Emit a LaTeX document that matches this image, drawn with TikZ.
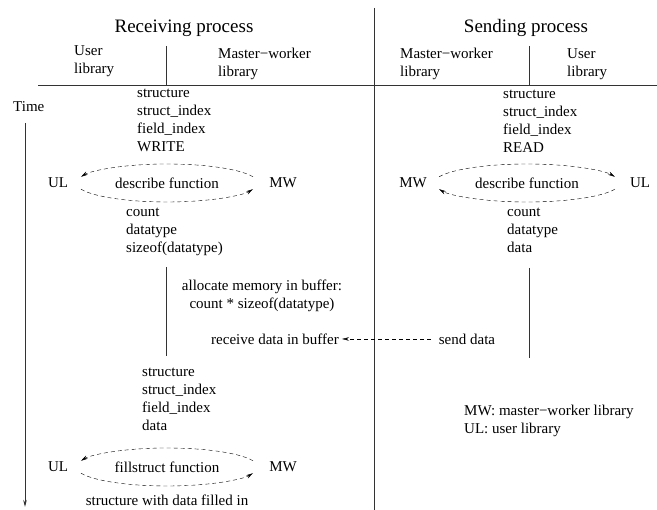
\documentclass[tikz,border=0pt]{standalone}
\usepackage{fontspec}
\setmainfont{Liberation Serif}
\usetikzlibrary{arrows.meta}
\begin{document}
\begin{tikzpicture}[x=1pt,y=1pt,
	every node/.style={inner sep=0pt,font=\fontsize{15}{18}\selectfont},
	head/.style={font=\fontsize{19}{22}\selectfont},
	lst/.style={align=left,anchor=north west},
	rule/.style={line width=0.8pt,black!80},
	flow/.style={dash pattern=on 4pt off 3pt,-{Stealth[length=7pt,width=3.5pt]}}]
\useasboundingbox (0,0) rectangle (657,510);
% frame of the two processes
\draw[rule] (374,502) -- (374,0);
\draw[rule] (38,425) -- (657,425);
\draw[rule] (166,464) -- (166,425);
\draw[rule] (529,464) -- (529,425);
\node[head] (recvhead) at (184,482) {Receiving process};
\node[head] (sendhead) at (526,482) {Sending process};
\node[lst] (ullib) at (74,465) {User\\library};
\node[lst] (mwlib) at (218,462) {Master−worker\\library};
\node[lst] (mwlib2) at (400,462) {Master−worker\\library};
\node[lst] (ullib2) at (567,462) {User\\library};
% time axis
\node[anchor=west] (time) at (13,403) {Time};
\coordinate (tend) at (25,3);
\draw[rule,-{Stealth[length=7pt,width=3.5pt]}] (25,387) -- (tend);
% receiving side
\node[lst] (args1) at (137,421) {structure\\struct\_index\\field\_index\\WRITE};
\node (ul1) at (58,327) {UL};
\node (df1) at (167,327) {describe function};
\node (mw1) at (283,327) {MW};
\draw[flow] (df1.center) ++(19:91 and 19) arc[start angle=19,end angle=161,x radius=91,y radius=19];
\draw[flow] (df1.center) ++(199:91 and 19) arc[start angle=199,end angle=341,x radius=91,y radius=19];
\node[lst] (res1) at (126,302) {count\\datatype\\sizeof(datatype)};
\draw[rule] (166,243) -- (166,154);
\node[align=center,anchor=north] (alloc) at (262,230) {allocate memory in buffer:\\count * sizeof(datatype)};
\node (recv) at (275,171) {receive data in buffer};
\node[lst] (args2) at (142,142) {structure\\struct\_index\\field\_index\\data};
\node (ul2) at (58,43) {UL};
\node (fs) at (167,43) {fillstruct function};
\node (mw2) at (283,43) {MW};
\draw[flow] (fs.center) ++(19:91 and 19) arc[start angle=19,end angle=161,x radius=91,y radius=19];
\draw[flow] (fs.center) ++(199:91 and 19) arc[start angle=199,end angle=341,x radius=91,y radius=19];
\node[anchor=south] (filled) at (167,4) {structure with data filled in};
% sending side
\node[lst] (args3) at (503,420) {structure\\struct\_index\\field\_index\\READ};
\node (mw3) at (413,327) {MW};
\node (df2) at (527,327) {describe function};
\node (ul3) at (640,327) {UL};
\draw[flow] (df2.center) ++(161:93 and 19) arc[start angle=161,end angle=19,x radius=93,y radius=19];
\draw[flow] (df2.center) ++(341:93 and 19) arc[start angle=341,end angle=199,x radius=93,y radius=19];
\node[lst] (res2) at (507,302) {count\\datatype\\data};
\draw[rule] (529,242) -- (529,152);
\node (send) at (467,171) {send data};
\draw[flow,shorten <=8pt,shorten >=3pt] (send.west) -- (recv.east);
\node[lst] (legend) at (464,105) {MW: master−worker library\\UL: user library};
\end{tikzpicture}
\end{document}
